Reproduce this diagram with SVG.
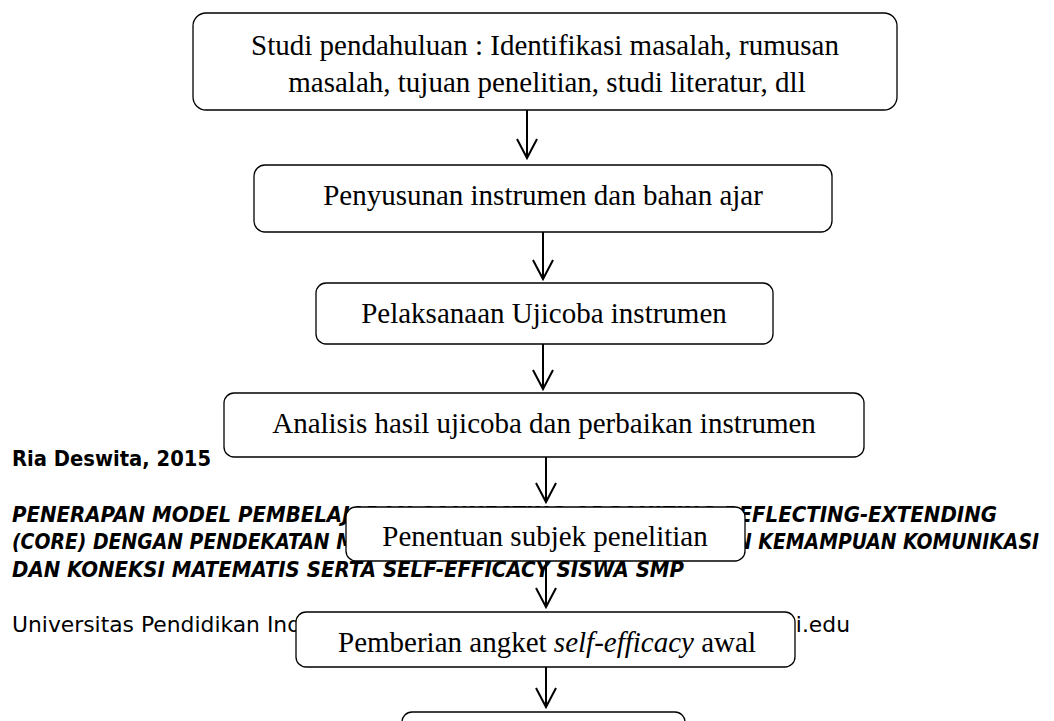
<svg xmlns="http://www.w3.org/2000/svg" width="1054" height="721" viewBox="0 0 1054 721">
<style>
.bg{fill:#ffffff}
.box{fill:#ffffff;stroke:#000000;stroke-width:1.3}
.lbl{font-family:"Liberation Serif","Times New Roman",serif;font-size:29px;fill:#000000;text-anchor:middle}
.it{font-style:italic}
.ft{font-family:"DejaVu Sans",Verdana,sans-serif;fill:#000000}
.fb{font-weight:bold;font-size:21px}
.fbi{font-weight:bold;font-style:italic;font-size:21px}
.fr{font-size:21.5px}
.conn{stroke:#000000;stroke-width:2;fill:none}
</style>
<defs>
<marker id="vhead" markerUnits="userSpaceOnUse" markerWidth="40" markerHeight="40" refX="0" refY="0" orient="auto" overflow="visible">
<path d="M-19,-10 L0,0 L-19,10" fill="none" stroke="#000000" stroke-width="2"/>
</marker>
</defs>
<rect class="bg" x="0" y="0" width="1054" height="721"/>
<g id="footer">
<text class="ft fb" x="12" y="466" textLength="199" lengthAdjust="spacingAndGlyphs">Ria Deswita, 2015</text>
<text class="ft fbi" x="12" y="521.5" textLength="985" lengthAdjust="spacingAndGlyphs">PENERAPAN MODEL PEMBELAJARAN CONNECTING-ORGANIZING-REFLECTING-EXTENDING</text>
<text class="ft fbi" x="12" y="549" textLength="1027" lengthAdjust="spacingAndGlyphs">(CORE) DENGAN PENDEKATAN METAKOGNITIF UNTUK MENINGKATKAN KEMAMPUAN KOMUNIKASI</text>
<text class="ft fbi" x="12" y="576.5" textLength="672" lengthAdjust="spacingAndGlyphs">DAN KONEKSI MATEMATIS SERTA SELF-EFFICACY SISWA SMP</text>
<text class="ft fr" x="12" y="631.5" textLength="838" lengthAdjust="spacingAndGlyphs">Universitas Pendidikan Indonesia | repository.upi.edu | perpustakaan.upi.edu</text>
</g>
<g id="node-studi">
<rect class="box" x="193" y="13" width="704" height="97" rx="13"/>
<text class="lbl" x="545" y="55">Studi pendahuluan : Identifikasi masalah, rumusan</text>
<text class="lbl" x="547" y="92">masalah, tujuan penelitian, studi literatur, dll</text>
</g>
<g id="node-penyusunan">
<rect class="box" x="254" y="165" width="578" height="67" rx="11"/>
<text class="lbl" x="543" y="205">Penyusunan instrumen dan bahan ajar</text>
</g>
<g id="node-pelaksanaan">
<rect class="box" x="316" y="283" width="457" height="61" rx="10"/>
<text class="lbl" x="544" y="323">Pelaksanaan Ujicoba instrumen</text>
</g>
<g id="node-analisis">
<rect class="box" x="224" y="393" width="640" height="64" rx="10"/>
<text class="lbl" x="544" y="433">Analisis hasil ujicoba dan perbaikan instrumen</text>
</g>
<g id="node-penentuan">
<rect class="box" x="346" y="507" width="399" height="54" rx="10"/>
<text class="lbl" x="545" y="546">Penentuan subjek penelitian</text>
</g>
<g id="node-pemberian">
<rect class="box" x="296" y="612" width="499" height="55" rx="10"/>
<text class="lbl" x="547" y="652">Pemberian angket <tspan class="it">self-efficacy</tspan> awal</text>
</g>
<g id="node-next">
<rect class="box" x="402" y="712" width="283" height="40" rx="10"/>
</g>
<g id="connectors">
<line class="conn" x1="527" y1="110" x2="527" y2="158" marker-end="url(#vhead)"/>
<line class="conn" x1="543" y1="232" x2="543" y2="279" marker-end="url(#vhead)"/>
<line class="conn" x1="543" y1="344" x2="543" y2="389" marker-end="url(#vhead)"/>
<line class="conn" x1="546" y1="457" x2="546" y2="502" marker-end="url(#vhead)"/>
<line class="conn" x1="546" y1="561" x2="546" y2="607" marker-end="url(#vhead)"/>
<line class="conn" x1="546" y1="667" x2="546" y2="707" marker-end="url(#vhead)"/>
</g>
</svg>
